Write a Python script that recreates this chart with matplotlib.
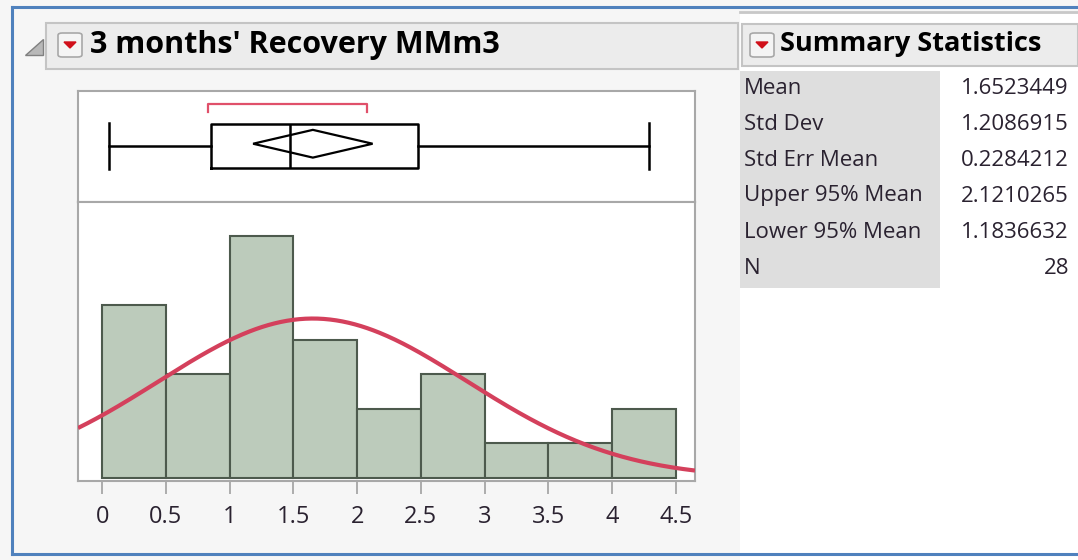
import numpy as np
import matplotlib
matplotlib.use("Agg")
import matplotlib.pyplot as plt
from matplotlib.patches import Rectangle, Polygon, FancyBboxPatch

# ---------------- data ----------------
title = "3 months' Recovery MMm3"
bin_edges = [0, 0.5, 1, 1.5, 2, 2.5, 3, 3.5, 4, 4.5]
counts = [5, 3, 7, 4, 2, 3, 1, 1, 2]
xticks = [0, 0.5, 1, 1.5, 2, 2.5, 3, 3.5, 4, 4.5]
xtick_labels = ["0", "0.5", "1", "1.5", "2", "2.5", "3", "3.5", "4", "4.5"]

box_min, box_q1, box_med, box_q3, box_max = 0.05, 0.85, 1.47, 2.48, 4.29
shortest_half = [0.83, 2.08]

stat_names = ["Mean", "Std Dev", "Std Err Mean", "Upper 95% Mean", "Lower 95% Mean", "N"]
stat_values = ["1.6523449", "1.2086915", "0.2284212", "2.1210265", "1.1836632", "28"]
mean_val = 1.6523449
sd_val = 1.2086915
upper95 = 2.1210265
lower95 = 1.1836632
n_val = 28

# ---------------- figure ----------------
W, H = 1078, 560
fig = plt.figure(figsize=(W / 100, H / 100), dpi=100)
fig.patch.set_facecolor("#f6f6f6")
FONT = ["Open Sans", "DejaVu Sans"]


def fx(x):
    return x / W


def fy(y):
    return 1 - y / H


def frect(x0, y0, x1, y1, **kw):
    fig.patches.append(Rectangle((fx(x0), fy(y1)), fx(x1) - fx(x0), fy(y0) - fy(y1),
                                 transform=fig.transFigure, figure=fig, **kw))


# right panel background (white)
frect(740, 12, 1078, 560, facecolor="white", edgecolor="none", zorder=0)
fig.lines.append(plt.Line2D([fx(740), fx(1078)], [fy(12), fy(12)], transform=fig.transFigure,
                            color="#c8c8c8", lw=2))
# left header bar
frect(46, 23, 738, 69, facecolor="#ececec", edgecolor="#c4c4c4", lw=1.5, zorder=1)
# right header bar
frect(742, 24, 1078, 66, facecolor="#ececec", edgecolor="#c4c4c4", lw=1.5, zorder=1)
# stats label background
frect(740, 71, 940, 288, facecolor="#dedede", edgecolor="none", zorder=1)

# disclosure triangle
fig.patches.append(Polygon([(fx(25), fy(55)), (fx(43), fy(55)), (fx(43), fy(39))], closed=True,
                           transform=fig.transFigure, facecolor="#b8b8b8", edgecolor="#808080",
                           lw=1, zorder=2))


def dropdown(x0, y0):
    fig.patches.append(FancyBboxPatch((fx(x0), fy(y0 + 24)), fx(24), 24 / H,
                                      boxstyle="round,pad=0,rounding_size=0.004",
                                      transform=fig.transFigure, facecolor="#f4f4f4",
                                      edgecolor="#a8a8a8", lw=1.2, zorder=2))
    cx = x0 + 12
    fig.patches.append(Polygon([(fx(cx - 6), fy(y0 + 9)), (fx(cx + 6), fy(y0 + 9)),
                                (fx(cx), fy(y0 + 15))], closed=True, transform=fig.transFigure,
                               facecolor="#d0101a", edgecolor="#d0101a", lw=1, zorder=3))


dropdown(58, 33)
dropdown(750, 33)

fig.text(fx(90), fy(45), title, fontsize=22, fontweight="bold", family=FONT,
         va="center", ha="left", color="black", zorder=3)
fig.text(fx(780), fy(44), "Summary Statistics", fontsize=19.5, fontweight="bold", family=FONT,
         va="center", ha="left", color="black", zorder=3)

row_y = [89, 124, 160, 196, 232, 268]
for name, val, yy in zip(stat_names, stat_values, row_y):
    fig.text(fx(744), fy(yy), name, fontsize=16, family=FONT, va="center", ha="left",
             color="#2a2230", zorder=3)
    fig.text(fx(1069), fy(yy), val, fontsize=16, family=FONT, va="center", ha="right",
             color="#2a2230", zorder=3)

# blue outer border
for xs, ys in [([12, 1078], [7, 7]), ([12, 1078], [554, 554]), ([12, 12], [7, 554])]:
    fig.lines.append(plt.Line2D([fx(xs[0]), fx(xs[1])], [fy(ys[0]), fy(ys[1])],
                                transform=fig.transFigure, color="#4f81bd", lw=2.2, zorder=5))

# ---------------- axes ----------------
AX_L, AX_R = 78, 695
BOX_T, SPLIT, HIST_B = 91, 202, 481
xlim = (-0.19, 4.65)
spine_col = "#a8a8a8"

ax_box = fig.add_axes([fx(AX_L), fy(SPLIT), fx(AX_R) - fx(AX_L), fy(BOX_T) - fy(SPLIT)])
ax_hist = fig.add_axes([fx(AX_L), fy(HIST_B), fx(AX_R) - fx(AX_L), fy(SPLIT) - fy(HIST_B)])

for ax in (ax_box, ax_hist):
    ax.set_facecolor("white")
    ax.set_xlim(*xlim)
    for s in ax.spines.values():
        s.set_color(spine_col)
        s.set_linewidth(1.5)

# box plot
ax_box.set_ylim(0, 1)
stats = [dict(med=box_med, q1=box_q1, q3=box_q3, whislo=box_min, whishi=box_max, fliers=[])]
ax_box.bxp(stats, positions=[0.505], widths=0.39, vert=False, showfliers=False,
           boxprops=dict(color="black", lw=1.8), medianprops=dict(color="black", lw=1.8),
           whiskerprops=dict(color="black", lw=1.8), capprops=dict(color="black", lw=1.8),
           capwidths=0.41, manage_ticks=False)
dy = 0.125
ax_box.add_patch(Polygon([(lower95, 0.525), (mean_val, 0.525 + dy), (upper95, 0.525),
                          (mean_val, 0.525 - dy)], closed=True, facecolor="none",
                         edgecolor="black", lw=1.6, zorder=4))
ax_box.plot([shortest_half[0], shortest_half[0], shortest_half[1], shortest_half[1]],
            [0.81, 0.885, 0.885, 0.81], color="#e0506a", lw=1.6)
ax_box.set_xticks([])
ax_box.set_yticks([])

# histogram
edges = np.array(bin_edges)
ax_hist.bar(edges[:-1], counts, width=np.diff(edges), align="edge", color="#bccbbb",
            edgecolor="#4d5a4d", lw=1.5, zorder=2)
xs = np.linspace(xlim[0], xlim[1], 400)
bw = edges[1] - edges[0]
pdf = n_val * bw / (sd_val * np.sqrt(2 * np.pi)) * np.exp(-0.5 * ((xs - mean_val) / sd_val) ** 2)
ax_hist.plot(xs, pdf, color="#d4405c", lw=3, zorder=3, solid_capstyle="butt")
ax_hist.set_ylim(-0.09, 8.0)
ax_hist.set_yticks([])
ax_hist.set_xticks(xticks)
ax_hist.set_xticklabels(xtick_labels)
ax_hist.tick_params(axis="x", length=9, width=1.2, color="#a0a0a0", pad=8,
                    labelsize=17, labelcolor="#2a2230")
for lab in ax_hist.get_xticklabels():
    lab.set_family(["Liberation Sans Narrow", "Open Sans", "DejaVu Sans"])

fig.savefig("out.png", dpi=100, facecolor=fig.get_facecolor())
